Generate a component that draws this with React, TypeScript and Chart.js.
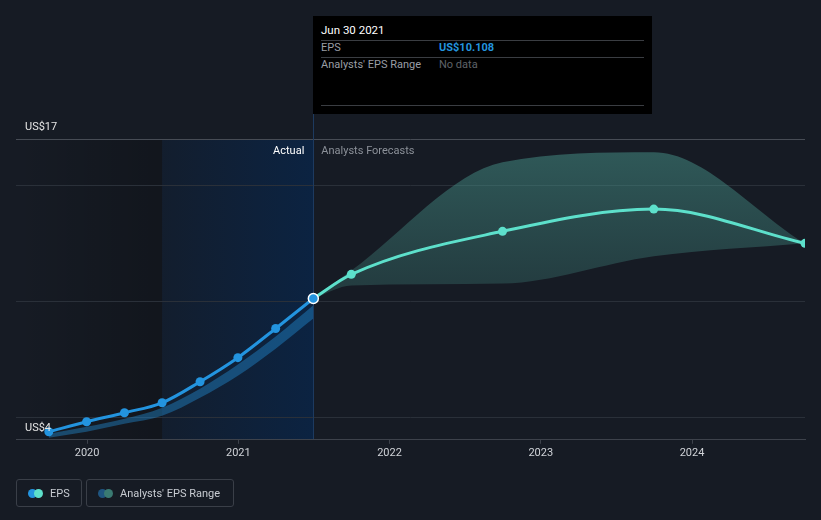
import React, { useEffect, useRef } from 'react';
import { Chart, registerables } from 'chart.js';

Chart.register(...registerables);

// ---- data ----
const actualDates = [2019.747, 2019.997, 2020.247, 2020.496, 2020.747, 2020.997, 2021.247, 2021.496];
const actualEps = [4.35, 4.78, 5.17, 5.6, 6.51, 7.55, 8.81, 10.108];
const actualBandHigh = [4.26, 4.56, 4.91, 5.39, 6.21, 7.25, 8.46, 9.81];
const actualBandLow = [4.09, 4.35, 4.69, 5.04, 5.82, 6.77, 7.94, 9.24];

const forecastDates = [2021.496, 2021.747, 2022.747, 2023.747, 2024.747];
const forecastEps = [10.108, 11.15, 13.01, 13.97, 12.49];
const forecastHigh = [10.108, 11.32, 16.0, 16.43, 12.49];
const forecastLow = [10.108, 10.67, 10.75, 11.93, 12.49];

const yearTicks = [2020, 2021, 2022, 2023, 2024];
const gridValues = [5, 10, 15];
const yLabelValues = [17, 4];
const yLabelTexts = ['US$17', 'US$4'];

const X_MIN = 2019.53;
const X_MAX = 2024.747;
const Y_MIN = 4;
const Y_MAX = 17;
const SHADE_START = 2020.496;
const DIVIDER = 2021.496;

const FONT = 'Roboto, "Noto Sans", sans-serif';

const bgPlugin = {
  id: 'bgPlugin',
  beforeDraw(chart: any) {
    const { ctx, chartArea: ca, scales } = chart;
    const x = scales.x;
    const y = scales.y;
    ctx.save();
    ctx.fillStyle = '#161b24';
    ctx.fillRect(0, 0, chart.width, chart.height);

    const xs = x.getPixelForValue(SHADE_START);
    const xd = x.getPixelForValue(DIVIDER);
    let g = ctx.createLinearGradient(ca.left, 0, xs, 0);
    g.addColorStop(0, 'rgba(0,0,0,0)');
    g.addColorStop(1, 'rgba(0,0,0,0.2)');
    ctx.fillStyle = g;
    ctx.fillRect(ca.left, ca.top, xs - ca.left, ca.bottom - ca.top);

    g = ctx.createLinearGradient(xs, 0, xd, 0);
    g.addColorStop(0, 'rgba(5,40,84,0.2)');
    g.addColorStop(1, 'rgba(5,40,84,0.62)');
    ctx.fillStyle = g;
    ctx.fillRect(xs, ca.top, xd - xs, ca.bottom - ca.top);

    // grid lines
    ctx.lineWidth = 1;
    ctx.strokeStyle = '#2a3039';
    gridValues.forEach((v) => {
      const py = Math.round(y.getPixelForValue(v)) + 0.5;
      ctx.beginPath();
      ctx.moveTo(ca.left, py);
      ctx.lineTo(ca.right, py);
      ctx.stroke();
    });
    ctx.strokeStyle = '#474c55';
    const pt = Math.round(y.getPixelForValue(Y_MAX)) + 0.5;
    ctx.beginPath();
    ctx.moveTo(ca.left, pt);
    ctx.lineTo(ca.right, pt);
    ctx.stroke();

    // hover divider line
    ctx.strokeStyle = '#1d3a5f';
    const dx = Math.round(xd) + 0.5;
    ctx.beginPath();
    ctx.moveTo(dx, 114);
    ctx.lineTo(dx, ca.bottom);
    ctx.stroke();
    ctx.restore();
  },
  afterDraw(chart: any) {
    const { ctx, scales } = chart;
    const x = scales.x;
    const y = scales.y;
    ctx.save();
    ctx.font = `11px ${FONT}`;
    ctx.textBaseline = 'middle';
    ctx.fillStyle = '#e6e6e6';
    ctx.textAlign = 'left';
    yLabelValues.forEach((v, i) => {
      ctx.fillText(yLabelTexts[i], 25, y.getPixelForValue(v) - 12);
    });
    const xd = x.getPixelForValue(DIVIDER);
    const ly = y.getPixelForValue(Y_MAX) + 12;
    ctx.textAlign = 'right';
    ctx.fillStyle = '#ffffff';
    ctx.fillText('Actual', xd - 9, ly);
    ctx.textAlign = 'left';
    ctx.fillStyle = '#8c9199';
    ctx.fillText('Analysts Forecasts', xd + 8, ly);
    ctx.restore();
  },
};

function forecastBandColor(context: any) {
  const chart = context.chart;
  const ca = chart.chartArea;
  if (!ca) return 'rgba(72,150,140,0.35)';
  const g = chart.ctx.createLinearGradient(0, ca.top, 0, ca.bottom);
  g.addColorStop(0, 'rgba(72,150,140,0.52)');
  g.addColorStop(0.47, 'rgba(72,150,140,0.28)');
  g.addColorStop(1, 'rgba(72,150,140,0.18)');
  return g;
}

export default function App() {
  const canvasRef = useRef<HTMLCanvasElement | null>(null);

  useEffect(() => {
    document.body.style.margin = '0';
    document.body.style.background = '#161b24';
    const canvas = canvasRef.current;
    if (!canvas) return;
    const toPts = (xs: number[], ys: number[]) => xs.map((v, i) => ({ x: v, y: ys[i] }));
    const n = actualDates.length;
    const chart = new Chart(canvas, {
      type: 'line',
      data: {
        datasets: [
          {
            label: 'EPS',
            data: toPts(actualDates, actualEps),
            borderColor: '#2394df',
            backgroundColor: '#2394df',
            borderWidth: 3,
            pointRadius: actualDates.map((_, i) => (i === n - 1 ? 5 : 4.5)),
            pointBackgroundColor: '#2394df',
            pointBorderColor: actualDates.map((_, i) => (i === n - 1 ? '#ffffff' : '#2394df')),
            pointBorderWidth: actualDates.map((_, i) => (i === n - 1 ? 1.5 : 0)),
            cubicInterpolationMode: 'monotone',
            fill: false,
            order: 0,
          },
          {
            label: 'EPS forecast',
            data: toPts(forecastDates, forecastEps),
            borderColor: '#5de0cb',
            backgroundColor: '#5de0cb',
            borderWidth: 3,
            pointRadius: forecastDates.map((_, i) => (i === 0 ? 0 : 4.5)),
            pointBorderWidth: 0,
            pointBackgroundColor: '#5de0cb',
            cubicInterpolationMode: 'monotone',
            fill: false,
            order: 1,
          },
          {
            label: 'Past band high',
            data: toPts(actualDates, actualBandHigh),
            borderWidth: 0,
            pointRadius: 0,
            backgroundColor: 'rgba(35,148,223,0.4)',
            borderColor: 'rgba(0,0,0,0)',
            cubicInterpolationMode: 'monotone',
            fill: '+1',
            order: 2,
          },
          {
            label: 'Past band low',
            data: toPts(actualDates, actualBandLow),
            borderWidth: 0,
            pointRadius: 0,
            borderColor: 'rgba(0,0,0,0)',
            cubicInterpolationMode: 'monotone',
            fill: false,
            order: 3,
          },
          {
            label: "Analysts' EPS Range high",
            data: toPts(forecastDates, forecastHigh),
            borderWidth: 0,
            pointRadius: 0,
            borderColor: 'rgba(0,0,0,0)',
            backgroundColor: forecastBandColor,
            cubicInterpolationMode: 'monotone',
            fill: '+1',
            order: 4,
          },
          {
            label: "Analysts' EPS Range low",
            data: toPts(forecastDates, forecastLow),
            borderWidth: 0,
            pointRadius: 0,
            borderColor: 'rgba(0,0,0,0)',
            cubicInterpolationMode: 'monotone',
            fill: false,
            order: 5,
          },
        ],
      },
      options: {
        animation: false,
        responsive: false,
        devicePixelRatio: 1,
        layout: { padding: { left: 16, right: 16, top: 139, bottom: 57 } },
        plugins: {
          legend: { display: false },
          tooltip: { enabled: false },
        },
        events: [],
        scales: {
          x: {
            type: 'linear',
            min: X_MIN,
            max: X_MAX,
            afterBuildTicks: (scale: any) => {
              scale.ticks = yearTicks.map((v) => ({ value: v }));
            },
            grid: {
              display: true,
              drawOnChartArea: false,
              drawTicks: true,
              tickLength: 4,
              color: '#3d424b',
            },
            border: { display: true, color: '#3d424b' },
            ticks: {
              color: '#d0d3d8',
              font: { family: FONT, size: 11 },
              padding: 3,
              maxRotation: 0,
              autoSkip: false,
              callback: (v: any) => String(v),
            },
          },
          y: {
            type: 'linear',
            display: false,
            min: Y_MIN,
            max: Y_MAX,
          },
        },
      },
      plugins: [bgPlugin],
    } as any);
    return () => chart.destroy();
  }, []);

  const sep = { position: 'absolute' as const, left: 8, right: 8, height: 1, background: '#3a3d42' };
  const txt = { position: 'absolute' as const, fontFamily: FONT, fontSize: 11, lineHeight: '13px', whiteSpace: 'nowrap' as const };

  const legendBox = {
    position: 'absolute' as const,
    top: 479,
    height: 28,
    boxSizing: 'border-box' as const,
    border: '1px solid #3a3f48',
    borderRadius: 3,
  };
  const dot = (left: number, color: string) => ({
    position: 'absolute' as const,
    left,
    top: 9,
    width: 9,
    height: 9,
    borderRadius: '50%',
    background: color,
  });

  return (
    <div style={{ position: 'relative', width: 821, height: 520, background: '#161b24', overflow: 'hidden' }}>
      <canvas ref={canvasRef} width={821} height={520} style={{ display: 'block', width: 821, height: 520 }} />
      <div style={{ position: 'absolute', left: 313, top: 16, width: 339, height: 98, background: '#000000' }}>
        <div style={{ ...txt, left: 8, top: 8, color: '#ffffff', fontSize: 11.5 }}>Jun 30 2021</div>
        <div style={{ ...sep, top: 24 }} />
        <div style={{ ...txt, left: 8, top: 25, color: '#9a9ea5' }}>EPS</div>
        <div style={{ ...txt, left: 126, top: 25, color: '#2394df', fontWeight: 'bold' }}>US$10.108</div>
        <div style={{ ...sep, top: 41 }} />
        <div style={{ ...txt, left: 8, top: 42, color: '#9a9ea5' }}>Analysts' EPS Range</div>
        <div style={{ ...txt, left: 126, top: 42, color: '#5f6369' }}>No data</div>
        <div style={{ ...sep, top: 89 }} />
      </div>
      <div style={{ ...legendBox, left: 16, width: 66 }}>
        <div style={dot(11, '#2394df')} />
        <div style={dot(17, '#5de0cb')} />
        <div style={{ ...txt, left: 33, top: 7, color: '#c8ccd2' }}>EPS</div>
      </div>
      <div style={{ ...legendBox, left: 86, width: 148 }}>
        <div style={dot(11, '#1f5580')} />
        <div style={dot(17, '#3a7a72')} />
        <div style={{ ...txt, left: 33, top: 7, color: '#c8ccd2' }}>Analysts' EPS Range</div>
      </div>
    </div>
  );
}
